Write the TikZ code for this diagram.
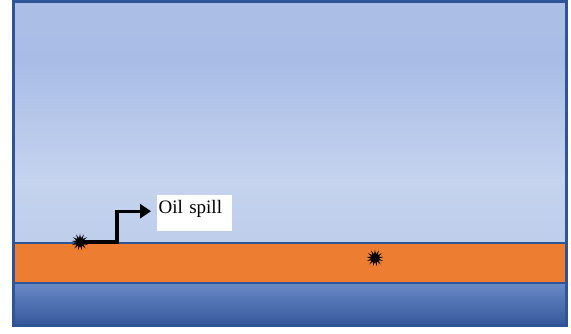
\documentclass[tikz,border=0pt]{standalone}
\usepackage{fontspec}
\setmainfont{Liberation Serif}
\usetikzlibrary{shapes.geometric,arrows.meta}
\definecolor{rim}{HTML}{2F5597}
\definecolor{oil}{HTML}{ED7D31}
\definecolor{skyA}{HTML}{B4C7E7}
\definecolor{skyB}{HTML}{A8BCE6}
\definecolor{skyC}{HTML}{C5D3EE}
\definecolor{skyD}{HTML}{B0C3E5}
\definecolor{seaA}{HTML}{6A89C6}
\definecolor{seaB}{HTML}{34589C}
\pgfdeclareverticalshading{sky}{100bp}{color(0bp)=(skyD); color(38bp)=(skyC); color(63bp)=(skyB); color(100bp)=(skyA)}
\tikzset{
  burst/.style={star, star points=13, star point ratio=2.2, fill=black, inner sep=0pt, minimum size=17pt},
  bend arrow/.style={line width=3.4pt, -{Triangle[length=11pt,width=14pt]}},
  tag/.style={fill=white, anchor=north west, inner xsep=1.5pt, inner ysep=0pt, text width=72pt, align=left, text height=18pt, text depth=18pt, font=\fontsize{19}{21}\selectfont}
}
\begin{document}
\begin{tikzpicture}[x=1pt,y=1pt]
\useasboundingbox (0,0) rectangle (571,333);
% sky
\shade[shading=sky] (13.5,90) rectangle (566.5,331.5);
% oil layer
\fill[oil] (13.5,50) rectangle (566.5,90);
% sea
\shade[top color=seaA, bottom color=seaB] (13.5,7.5) rectangle (566.5,50);
\draw[rim, line width=2.5pt] (13.5,90) -- (566.5,90) (13.5,50) -- (566.5,50);
\draw[rim, line width=3pt] (13.5,7.5) rectangle (566.5,331.5);
% spill sources
\node[burst] (spillA) at (80,91) {};
\node[burst] (spillB) at (375,75) {};
\node[tag] (spill) at (157,138) {Oil spill};
\coordinate (turn) at (117,91);
\draw[bend arrow] (spillA.center) -- (turn) |- ([xshift=-6pt,yshift=2pt]spill.west);
\end{tikzpicture}
\end{document}
